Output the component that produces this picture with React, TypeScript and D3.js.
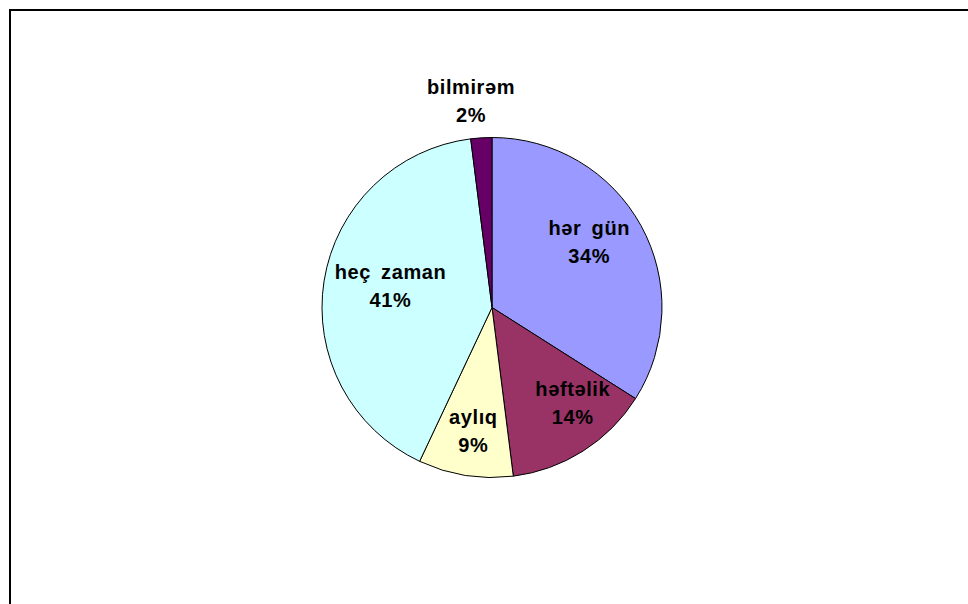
import React from "react";
import * as d3 from "d3";

const categories = ["hər gün", "həftəlik", "aylıq", "heç zaman", "bilmirəm"];
const values = [34, 14, 9, 41, 2];
const colors = ["#9999FF", "#993366", "#FFFFCC", "#CCFFFF", "#660066"];
// label placement: radius factor and small pixel nudges (layout only)
const labelRadius = [0.7, 0.7, 0.7, 0.7, 1.22];
const labelNudge: [number, number][] = [[-7, -8], [17, -5], [0, 6], [16, -3], [-8, 0]];

const W = 968;
const H = 604;
const cx = 492;
const cy = 307.5;
const R = 170;

export default function App() {
  const total = d3.sum(values);
  const pie = d3.pie<number>().sort(null).value((d) => d)(values);
  const arc = d3.arc<d3.PieArcDatum<number>>().innerRadius(0).outerRadius(R);
  const font = "'Liberation Sans', Arial, sans-serif";
  return (
    <svg
      width={W}
      height={H}
      style={{ position: "absolute", left: 0, top: 0, background: "#fff" }}
    >
      <rect x={10} y={10} width={W + 20} height={H + 20} fill="#fff" stroke="#000" strokeWidth={2} />
      <g transform={`translate(${cx},${cy})`}>
        {pie.map((p, i) => (
          <path key={i} d={arc(p) || ""} fill={colors[i]} stroke="#000" strokeWidth={1} />
        ))}
        {pie.map((p, i) => {
          const mid = (p.startAngle + p.endAngle) / 2;
          const r = R * labelRadius[i];
          const x = Math.sin(mid) * r + labelNudge[i][0];
          const y = -Math.cos(mid) * r + labelNudge[i][1];
          const pct = Math.round((values[i] / total) * 100) + "%";
          return (
            <text
              key={"l" + i}
              x={x}
              y={y}
              textAnchor="middle"
              fontFamily={font}
              fontWeight="bold"
              fontSize={20}
              fill="#000"
              style={{ letterSpacing: "0.6px", wordSpacing: "4px" }}
            >
              <tspan x={x} dy={-14 + 7}>{categories[i]}</tspan>
              <tspan x={x} dy={28}>{pct}</tspan>
            </text>
          );
        })}
      </g>
    </svg>
  );
}
